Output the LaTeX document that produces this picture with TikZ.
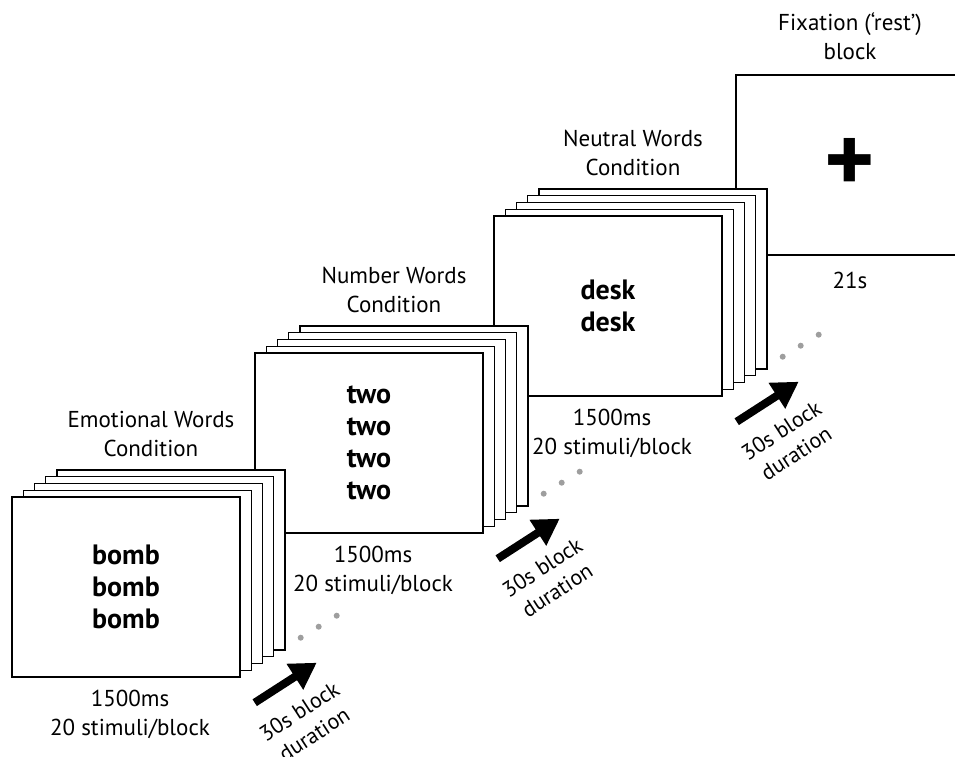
\documentclass[tikz,border=0pt]{standalone}
\usepackage{fontspec}
\setmainfont{PT Sans}
\usetikzlibrary{arrows.meta,calc}
\colorlet{dotgrey}{black!38}
\tikzset{card/.style={rectangle, draw=black, line width=1.4pt, fill=white,
            minimum width=228pt, minimum height=180pt, inner sep=0pt},
         word/.style={align=center, font=\fontsize{28}{32}\selectfont\bfseries},
         title/.style={align=center, font=\fontsize{23}{29}\selectfont},
         info/.style={align=center, font=\fontsize{23}{29}\selectfont},
         dur/.style={align=center, rotate=33, font=\fontsize{22}{27}\selectfont},
         dot/.style={circle, fill=dotgrey, inner sep=0pt, minimum size=6pt},
         blockarrow/.style={line width=8pt, -{Triangle[length=26pt,width=29pt]}}}
% #1 name, #2 x, #3 y of the front card, #4 title, #5 words
\newcommand{\condblock}[5]{%
 \foreach \i in {4,3,2,1}
   \node[card] (#1\i) at (#2+11.2*\i,#3-6.8*\i) {};
 \node[card, word] (#10) at (#2,#3) {#5};
 \node[title] (#1t) at ($(#10.center)+(25,-153)$) {#4};
 \node[info] (#1i) at ($(#10.center)+(4,127)$) {1500ms\\20 stimuli/block};
 \foreach \j/\dx/\dy in {1/60/-40,2/78/-51,3/96/-62}
   \node[dot] (#1d\j) at ($(#10.south east)+(\dx,\dy)$) {};
 \coordinate (#1a) at ($(#10.south east)+(14,25)$);
 \coordinate (#1b) at ($(#10.south east)+(76,-15)$);
 \draw[blockarrow] (#1a) -- (#1b);
 \node[dur] (#1u) at ($(#10.south east)+(66,45)$) {30s block\\duration};
}

\begin{document}
\begin{tikzpicture}[x=1pt, y=-1pt]
\path[use as bounding box, clip] (0,0) rectangle (955,757);

% fixation block, behind everything
\node[card, font=\fontsize{96}{96}\selectfont\bfseries] (fix) at (850,165) {+};
\node[title] (fixt) at ($(fix.center)+(0,-129)$) {Fixation (`rest')\\block};
\node[info] (fixi) at ($(fix.south)+(0,25)$) {21s};

% conditions, back to front
\condblock{neu}{608}{306}{Neutral Words\\Condition}{desk\\desk}
\condblock{num}{369}{443}{Number Words\\Condition}{two\\two\\two\\two}
\condblock{emo}{126}{587}{Emotional Words\\Condition}{bomb\\bomb\\bomb}
\end{tikzpicture}
\end{document}
